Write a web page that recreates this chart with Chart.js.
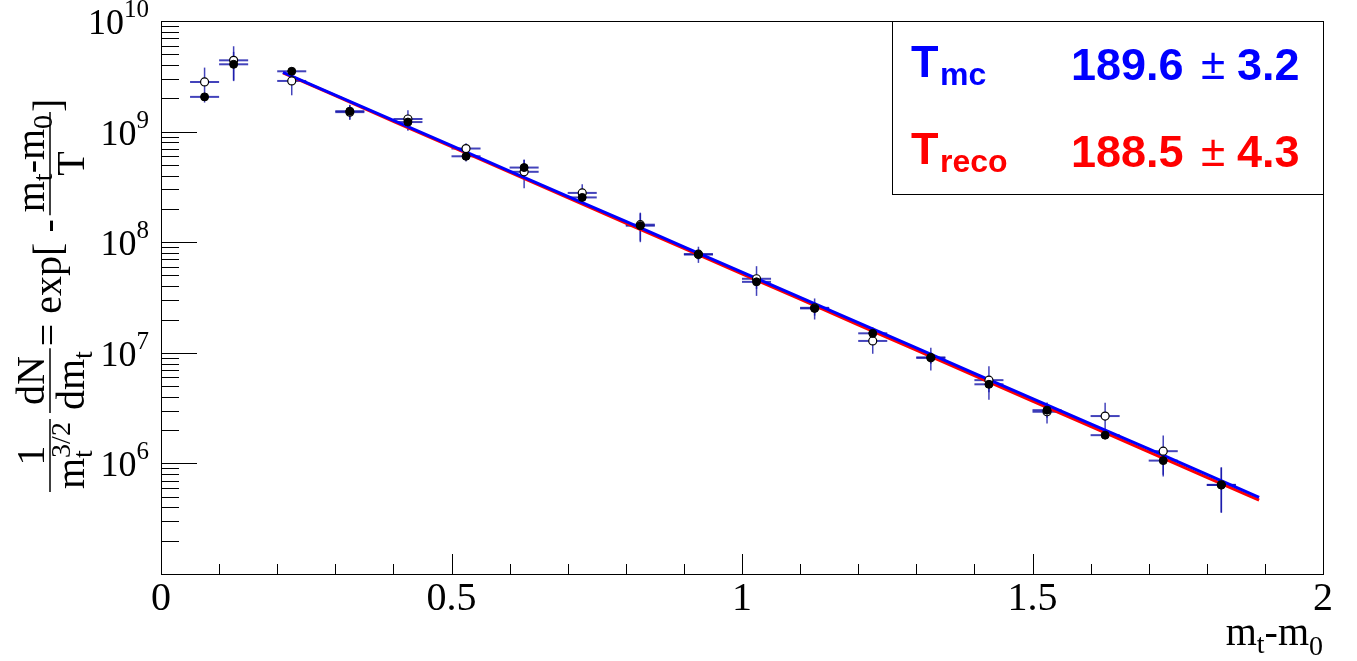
<!DOCTYPE html>
<html>
<head>
<meta charset="utf-8">
<script src="https://cdn.jsdelivr.net/npm/chart.js@4.4.1/dist/chart.umd.min.js"></script>
<style>
  html, body { margin: 0; padding: 0; background: #fff; }
  #grafico { display: block; }
</style>
</head>
<body>
<canvas id="grafico" width="1357" height="661"></canvas>
<script>
// bins in m_t - m_0 (GeV), half width of each bin
const binCentres = [0.075, 0.125, 0.225, 0.325, 0.425, 0.525, 0.625, 0.725, 0.825, 0.925,
                    1.025, 1.125, 1.225, 1.325, 1.425, 1.525, 1.625, 1.725, 1.825];
const binHalfWidth = 0.025;

// open markers (mc)
const mcValues = [2.81e9, 4.41e9, 2.87e9, 1.50e9, 1.30e9, 7.03e8, 4.33e8, 2.79e8, 1.44e8, 7.80e7,
                  4.67e7, 2.55e7, 1.28e7, 9.00e6, 5.66e6, 2.93e6, 2.68e6, 1.29e6, 6.40e5];
const mcErrors = [0.98e9, 1.50e9, 0.74e9, 0.23e9, 0.26e9, 0.80e8, 1.25e8, 0.55e8, 0.41e8, 1.30e7,
                  1.40e7, 0.55e7, 0.30e7, 2.10e6, 1.90e6, 0.63e6, 0.85e6, 0.50e6, 2.80e5];

// filled markers (reco)
const recoValues = [2.06e9, 4.06e9, 3.51e9, 1.53e9, 1.22e9, 5.98e8, 4.73e8, 2.54e8, 1.41e8, 7.74e7,
                    4.38e7, 2.52e7, 1.50e7, 9.08e6, 5.19e6, 3.03e6, 1.80e6, 1.06e6, 6.38e5];
const recoErrors = [0.15e9, 1.20e9, 0.30e9, 0.22e9, 0.20e9, 0.60e8, 0.80e8, 0.30e8, 0.41e8, 0.80e7,
                    0.60e7, 0.35e7, 0.20e7, 1.10e6, 0.80e6, 0.45e6, 0.10e6, 0.30e6, 2.80e5];

// fitted exponentials
const fitX = [0.21, 0.3, 0.4, 0.5, 0.6, 0.7, 0.8, 0.9, 1.0, 1.1, 1.2, 1.3, 1.4, 1.5, 1.6, 1.7, 1.8, 1.89];
const fitMc = [3.43e9, 2.14e9, 1.26e9, 7.45e8, 4.40e8, 2.60e8, 1.54e8, 9.08e7, 5.36e7, 3.17e7,
               1.87e7, 1.11e7, 6.53e6, 3.86e6, 2.28e6, 1.35e6, 7.95e5, 4.94e5];
const fitReco = [3.40e9, 2.11e9, 1.24e9, 7.30e8, 4.30e8, 2.53e8, 1.49e8, 8.78e7, 5.17e7, 3.05e7,
                 1.79e7, 1.06e7, 6.22e6, 3.66e6, 2.16e6, 1.27e6, 7.48e5, 4.66e5];

// axes
const xTicks = [0, 0.5, 1, 1.5, 2];
const xTickLabels = ["0", "0.5", "1", "1.5", "2"];
const yDecades = [5, 6, 7, 8, 9, 10];
const yLabelDecades = [6, 7, 8, 9, 10];

// fit results
const legendNames = ["mc", "reco"];
const legendT = ["189.6", "188.5"];
const legendErr = ["3.2", "4.3"];

const SERIF = "'Liberation Serif', 'Times New Roman', serif";
const SANS = "'Liberation Sans', Arial, sans-serif";

function toPoints(xs, ys) {
    return xs.map((x, i) => ({ x: x, y: ys[i] }));
}

// text made of pieces with their own size and vertical shift; keep:true does not advance
function richWidth(ctx, segs) {
    let w = 0, held = 0;
    segs.forEach(s => {
        ctx.font = s.size + "px " + (s.family || SERIF);
        const sw = ctx.measureText(s.t).width;
        if (s.keep) { held = Math.max(held, sw); }
        else { w += Math.max(sw, held); held = 0; }
    });
    return w + held;
}

function drawRich(ctx, segs, x, y) {
    let held = 0;
    segs.forEach(s => {
        ctx.font = s.size + "px " + (s.family || SERIF);
        ctx.fillText(s.t, x, y + (s.dy || 0));
        const sw = ctx.measureText(s.t).width;
        if (s.keep) { held = Math.max(held, sw); }
        else { x += Math.max(sw, held); held = 0; }
    });
    return x;
}

const errorBars = {
    id: "errorBars",
    beforeDatasetsDraw(chart) {
        const ctx = chart.ctx;
        const xs = chart.scales.x, ys = chart.scales.y;
        ctx.save();
        ctx.strokeStyle = "rgba(20, 20, 170, 0.8)";
        const series = [[mcValues, mcErrors], [recoValues, recoErrors]];
        series.forEach(([vals, errs]) => {
            binCentres.forEach((c, i) => {
                const px = xs.getPixelForValue(c);
                const py = ys.getPixelForValue(vals[i]);
                ctx.lineWidth = 2;
                ctx.beginPath();
                ctx.moveTo(xs.getPixelForValue(c - binHalfWidth), py);
                ctx.lineTo(xs.getPixelForValue(c + binHalfWidth), py);
                ctx.stroke();
                ctx.lineWidth = 1.5;
                ctx.beginPath();
                ctx.moveTo(px, ys.getPixelForValue(vals[i] + errs[i]));
                ctx.lineTo(px, ys.getPixelForValue(Math.max(vals[i] - errs[i], 1e5)));
                ctx.stroke();
            });
        });
        ctx.restore();
    }
};

const rootFrame = {
    id: "rootFrame",
    afterDraw(chart) {
        const ctx = chart.ctx;
        const a = chart.chartArea;
        const xs = chart.scales.x, ys = chart.scales.y;
        ctx.save();

        // frame
        ctx.strokeStyle = "#000";
        ctx.lineWidth = 1;
        ctx.strokeRect(Math.round(a.left) + 0.5, Math.round(a.top) + 0.5,
                       Math.round(a.right - a.left), Math.round(a.bottom - a.top));

        // x ticks, pointing inwards
        ctx.beginPath();
        for (let k = 0; k <= 20; k++) {
            const px = Math.round(xs.getPixelForValue(k / 10)) + 0.5;
            const len = (k % 5 === 0) ? 20 : 10;
            ctx.moveTo(px, a.bottom);
            ctx.lineTo(px, a.bottom - len);
        }
        ctx.stroke();

        // y ticks, log decades with minor steps
        ctx.beginPath();
        yDecades.forEach(d => {
            for (let m = 1; m <= 9; m++) {
                const v = m * Math.pow(10, d);
                if (v > 1e10) break;
                const py = Math.round(ys.getPixelForValue(v)) + 0.5;
                const len = (m === 1) ? 36 : 18;
                ctx.moveTo(a.left, py);
                ctx.lineTo(a.left + len, py);
            }
        });
        ctx.stroke();

        ctx.fillStyle = "#000";
        ctx.textBaseline = "alphabetic";
        ctx.textAlign = "left";

        // x tick labels
        ctx.font = "40px " + SERIF;
        ctx.textAlign = "center";
        xTicks.forEach((t, i) => {
            ctx.fillText(xTickLabels[i], xs.getPixelForValue(t), 610);
        });
        ctx.textAlign = "left";

        // y tick labels 10^n
        yLabelDecades.forEach(d => {
            const py = ys.getPixelForValue(Math.pow(10, d));
            const segs = [{ t: "10", size: 36, dy: 13 }, { t: String(d), size: 25, dy: -4 }];
            drawRich(ctx, segs, 149 - richWidth(ctx, segs), py);
        });

        // x title m_t-m_0
        const xTitle = [{ t: "m", size: 40 }, { t: "t", size: 28, dy: 8 }, { t: "-m", size: 40 },
                        { t: "0", size: 28, dy: 10 }];
        drawRich(ctx, xTitle, a.right - richWidth(ctx, xTitle), 645);

        // y title, rotated
        ctx.save();
        ctx.translate(50, 0);
        ctx.rotate(-Math.PI / 2);
        let u = -492;
        const frac = (num, den) => {
            const wn = richWidth(ctx, num), wd = richWidth(ctx, den);
            const w = Math.max(wn, wd) + 6;
            ctx.lineWidth = 1.5;
            ctx.beginPath();
            ctx.moveTo(u, 0);
            ctx.lineTo(u + w, 0);
            ctx.stroke();
            drawRich(ctx, num, u + (w - wn) / 2, -6);
            drawRich(ctx, den, u + (w - wd) / 2, 34);
            u += w;
        };
        const inline = (segs) => {
            u = drawRich(ctx, segs, u, 11);
        };
        frac([{ t: "1", size: 40 }],
             [{ t: "m", size: 40 }, { t: "t", size: 28, dy: 8, keep: true }, { t: "3/2", size: 28, dy: -14 }]);
        u += 6;
        frac([{ t: "dN", size: 40 }], [{ t: "dm", size: 40 }, { t: "t", size: 28, dy: 8 }]);
        u += 2;
        inline([{ t: "= exp[ -", size: 40 }]);
        u += 4;
        frac([{ t: "m", size: 40 }, { t: "t", size: 28, dy: 8 }, { t: "-m", size: 40 }, { t: "0", size: 28, dy: 8 }],
             [{ t: "T", size: 40 }]);
        inline([{ t: "]", size: 40 }]);
        ctx.restore();

        // fit result box
        ctx.strokeStyle = "#000";
        ctx.lineWidth = 1;
        ctx.strokeRect(892.5, Math.round(a.top) + 0.5, Math.round(a.right) - 892, 173);
        const rowColours = ["#0000ff", "#ff0000"];
        const rowBase = [80, 166.5];
        legendNames.forEach((n, i) => {
            ctx.fillStyle = rowColours[i];
            ctx.font = "bold 45px " + SANS;
            ctx.fillText("T", 911, rowBase[i] - 3);
            ctx.font = "bold 32px " + SANS;
            ctx.fillText(n, 940, rowBase[i] + 5);
            ctx.font = "bold 45px " + SANS;
            ctx.fillText(legendT[i], 1071, rowBase[i]);
            ctx.font = "44px " + SANS;
            ctx.fillText("\u00b1", 1201, rowBase[i] - 1);
            ctx.font = "bold 45px " + SANS;
            ctx.fillText(legendErr[i], 1237, rowBase[i]);
        });

        ctx.restore();
    }
};

const ctx = document.getElementById("grafico").getContext("2d");
new Chart(ctx, {
    type: "scatter",
    data: {
        datasets: [
            {
                label: "reco",
                data: toPoints(binCentres, recoValues),
                pointStyle: "circle",
                pointRadius: 4,
                backgroundColor: "#000",
                borderColor: "#000",
                borderWidth: 1,
                order: 1
            },
            {
                label: "mc",
                data: toPoints(binCentres, mcValues),
                pointStyle: "circle",
                pointRadius: 4,
                backgroundColor: "#fff",
                borderColor: "#000",
                borderWidth: 1.2,
                order: 2
            },
            {
                type: "line",
                label: "fit mc",
                data: toPoints(fitX, fitMc),
                borderColor: "#0000ff",
                borderWidth: 3,
                pointRadius: 0,
                fill: false,
                order: 3
            },
            {
                type: "line",
                label: "fit reco",
                data: toPoints(fitX, fitReco),
                borderColor: "#ff0000",
                borderWidth: 3,
                pointRadius: 0,
                fill: false,
                order: 4
            }
        ]
    },
    options: {
        responsive: false,
        animation: false,
        devicePixelRatio: 1,
        layout: { padding: { left: 161, right: 34, top: 21, bottom: 87 } },
        plugins: { legend: { display: false }, tooltip: { enabled: false } },
        scales: {
            x: { type: "linear", min: 0, max: 2, display: false },
            y: { type: "logarithmic", min: 1e5, max: 1e10, display: false }
        }
    },
    plugins: [errorBars, rootFrame]
});
</script>
</body>
</html>
